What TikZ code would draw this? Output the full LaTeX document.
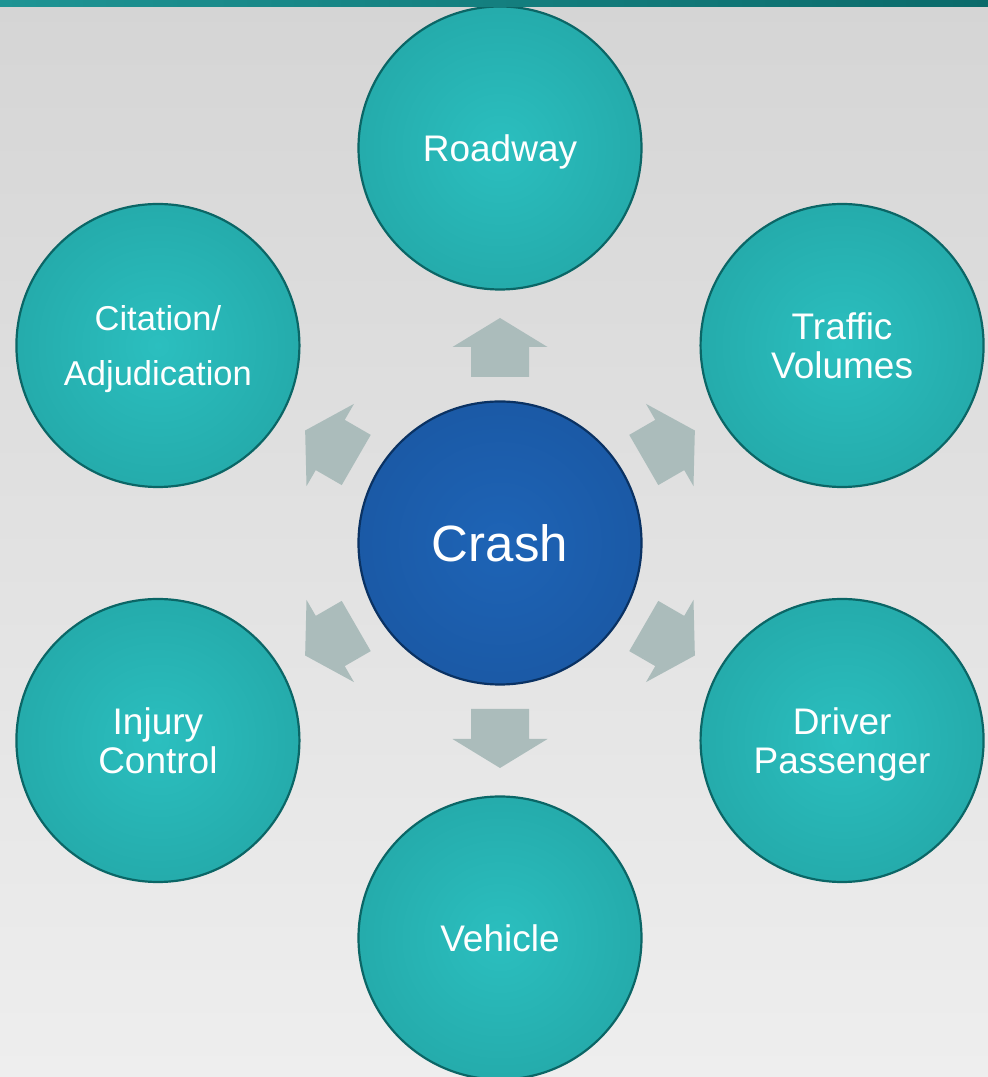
\documentclass[tikz,border=0pt]{standalone}
\usepackage{fontspec}
\setmainfont{Liberation Sans}
\usetikzlibrary{calc}
\definecolor{tealin}{HTML}{2BBFBF}
\definecolor{tealout}{HTML}{1E9898}
\definecolor{tealedge}{HTML}{0B6666}
\definecolor{bluein}{HTML}{1E64B6}
\definecolor{blueout}{HTML}{174F96}
\definecolor{blueedge}{HTML}{0A3263}
\definecolor{arrowfill}{HTML}{ABBCBB}
\definecolor{bgtop}{HTML}{D5D5D5}
\definecolor{bgbot}{HTML}{EEEEEE}
\definecolor{barleft}{HTML}{1E9494}
\definecolor{barright}{HTML}{0A6A6A}
\pgfdeclareradialshading{tealshade}{\pgfpoint{0bp}{0bp}}{color(0bp)=(tealin); color(50bp)=(tealout)}
\pgfdeclareradialshading{blueshade}{\pgfpoint{0bp}{0bp}}{color(0bp)=(bluein); color(50bp)=(blueout)}
\tikzset{
  spoke/.style={circle, draw=tealedge, line width=2.2pt, shading=tealshade,
    minimum size=283pt, inner sep=0pt, text=white, align=center, text depth=0pt,
    font=\fontsize{37}{38.5}\selectfont},
  hub/.style={circle, draw=blueedge, line width=2.2pt, shading=blueshade,
    minimum size=283pt, inner sep=0pt, text=white, align=center, text depth=0pt,
    font=\fontsize{51}{56}\selectfont},
  flowarrow/.style={fill=arrowfill},
}
\begin{document}
\begin{tikzpicture}[x=1pt,y=1pt]
\useasboundingbox (0,0) rectangle (988,1077);
% background
\shade[top color=bgtop, bottom color=bgbot] (0,0) rectangle (988,1077);
% hub
\node[hub] (crash) at (500,534) {Crash};
% arrows
\foreach \a in {90,30,-30,-90,-150,150}{
  \fill[flowarrow, shift={(crash.center)}, rotate=\a]
    (166,-29) -- (196,-29) -- (196,-47.5) -- (225,0) -- (196,47.5) -- (196,29) -- (166,29) -- cycle;
}
% spokes
\node[spoke] (roadway) at ($(crash)+(90:395)$) {Roadway};
\node[spoke] (traffic) at ($(crash)+(30:395)$) {Traffic\\Volumes};
\node[spoke] (driver) at ($(crash)+(-30:395)$) {Driver\\Passenger};
\node[spoke] (vehicle) at ($(crash)+(-90:395)$) {Vehicle};
\node[spoke] (injury) at ($(crash)+(-150:395)$) {Injury\\Control};
\node[spoke, font=\fontsize{34.5}{54.4}\selectfont] (citation) at ($(crash)+(150:395)$) {Citation/\\Adjudication};
% top bar
\shade[left color=barleft, right color=barright] (0,1070) rectangle (988,1077);
\end{tikzpicture}
\end{document}
